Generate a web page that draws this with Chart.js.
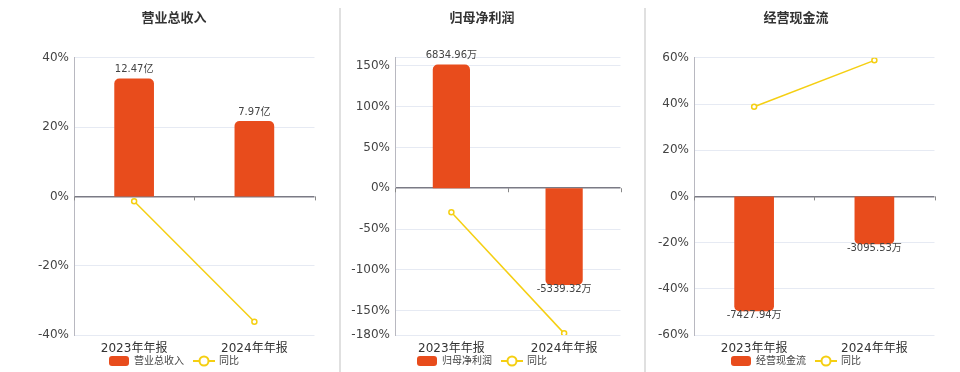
<!DOCTYPE html>
<html>
<head>
<meta charset="utf-8">
<script src="https://cdn.jsdelivr.net/npm/chart.js@4.4.1/dist/chart.umd.min.js"></script>
<style>
  html, body { margin: 0; padding: 0; background: #fff; overflow: hidden; }
  body { width: 960px; height: 372px; position: relative; }
  .panel { position: absolute; top: 0; height: 376px; }
  .sep { position: absolute; top: 8px; bottom: 0; width: 2px; background: #e0e0e0; }
</style>
</head>
<body>
<div class="panel" style="left:30px;width:290px"><canvas id="c1"></canvas></div>
<div class="panel" style="left:340px;width:286px"><canvas id="c2"></canvas></div>
<div class="panel" style="left:654px;width:286px"><canvas id="c3"></canvas></div>
<div class="sep" style="left:339px"></div>
<div class="sep" style="left:644px"></div>
<script>
// data
const periods = ['2023年年报', '2024年年报'];

const revenueTitle = '营业总收入';
const revenueValues = [12.47, 7.97];      // 亿
const revenueYoY = [-1.4, -36.2];         // %
const revenueTicks = [-40, -20, 0, 20, 40];

const profitTitle = '归母净利润';
const profitValues = [6834.96, -5339.32]; // 万
const profitYoY = [-29.5, -178];
const profitTicks = [-180, -150, -100, -50, 0, 50, 100, 150, 160];

const cashTitle = '经营现金流';
const cashValues = [-7427.94, -3095.53];  // 万
const cashYoY = [38.8, 58.9];
const cashTicks = [-60, -40, -20, 0, 20, 40, 60];

const BAR = '#e84c1c';
const LINE = '#f5cf12';
const FONT = "'DejaVu Sans', 'Noto Sans CJK SC', sans-serif";

// legend icons
const barIcon = document.createElement('canvas');
barIcon.width = 20; barIcon.height = 10;
(function () {
  const g = barIcon.getContext('2d');
  g.fillStyle = BAR;
  g.beginPath();
  g.roundRect(0, 0, 20, 10, 3);
  g.fill();
})();
const lineIcon = document.createElement('canvas');
lineIcon.width = 22; lineIcon.height = 12;
(function () {
  const g = lineIcon.getContext('2d');
  g.strokeStyle = LINE;
  g.lineWidth = 2;
  g.beginPath(); g.moveTo(0, 6); g.lineTo(22, 6); g.stroke();
  g.fillStyle = '#fff';
  g.beginPath(); g.arc(11, 6, 4.5, 0, Math.PI * 2); g.fill(); g.stroke();
})();

const valueLabels = {
  id: 'valueLabels',
  afterDatasetsDraw(chart, args, opts) {
    const meta = chart.getDatasetMeta(0);
    const ctx = chart.ctx;
    ctx.save();
    ctx.font = '10px ' + FONT;
    ctx.fillStyle = '#444';
    ctx.textAlign = 'center';
    ctx.textBaseline = 'middle';
    meta.data.forEach((bar, i) => {
      const v = chart.data.datasets[0].data[i];
      const y = v >= 0 ? bar.y - 9 : bar.y + 4;
      ctx.fillText(v.toFixed(2) + opts.unit, bar.x, y);
    });
    ctx.restore();
  }
};

const zeroTicks = {
  id: 'zeroTicks',
  afterDraw(chart) {
    const x = chart.scales.x, y = chart.scales.y;
    const y0 = y.getPixelForValue(0);
    const ctx = chart.ctx;
    ctx.save();
    ctx.strokeStyle = '#888';
    ctx.lineWidth = 1;
    for (let i = 0; i <= chart.data.labels.length; i++) {
      const px = Math.round(x.getPixelForValue(i - 0.5)) + 0.5;
      ctx.beginPath(); ctx.moveTo(px, y0); ctx.lineTo(px, y0 + 4); ctx.stroke();
    }
    ctx.restore();
  }
};

function makeChart(id, title, bars, yoy, ticks, barRange, unit, yWidth, hideTop) {
  const yMin = ticks[0], yMax = ticks[ticks.length - 1];
  return new Chart(document.getElementById(id), {
    data: {
      labels: periods,
      datasets: [
        {
          type: 'bar', label: title, data: bars, yAxisID: 'yb',
          backgroundColor: BAR, borderRadius: 5, borderSkipped: 'start',
          barPercentage: 0.33, categoryPercentage: 1, order: 2
        },
        {
          type: 'line', label: '同比', data: yoy, yAxisID: 'y',
          borderColor: LINE, borderWidth: 1.5, pointRadius: 2.5,
          pointBackgroundColor: '#fff', pointBorderColor: LINE, pointBorderWidth: 1.5,
          order: 1
        }
      ]
    },
    options: {
      responsive: true, maintainAspectRatio: false, animation: false,
      layout: { padding: { left: 0, right: 2, top: 0, bottom: 0 } },
      plugins: {
        title: {
          display: true, text: title, color: '#333',
          font: { family: FONT, size: 13, weight: 'bold' },
          padding: { top: 11, bottom: 31.2 }
        },
        legend: {
          position: 'bottom',
          labels: {
            usePointStyle: true, pointStyleWidth: 20, padding: 10,
            color: '#444', font: { family: FONT, size: 10 },
            sort: (a, b) => a.datasetIndex - b.datasetIndex,
            generateLabels(chart) {
              const items = Chart.defaults.plugins.legend.labels.generateLabels(chart);
              items.forEach(it => { it.pointStyle = it.datasetIndex === 0 ? barIcon : lineIcon; });
              return items;
            }
          }
        },
        tooltip: { enabled: false },
        valueLabels: { unit: unit }
      },
      scales: {
        x: {
          grid: { display: false, drawTicks: false },
          border: { display: false },
          ticks: { color: '#333', mirror: true, padding: -21, font: { family: FONT, size: 12 } },
          afterFit(s) { s.height = 11; }
        },
        y: {
          min: yMin, max: yMax,
          afterBuildTicks(s) { s.ticks = ticks.map(v => ({ value: v })); },
          grid: {
            drawTicks: false,
            color: c => c.tick && c.tick.value === 0 ? '#7a7a85' : '#e6eaf3',
            lineWidth: c => c.tick && c.tick.value === 0 ? 1.5 : 1
          },
          border: { color: '#b8b8c0', width: 1 },
          ticks: {
            color: '#444', padding: 5, font: { family: FONT, size: 12 },
            callback: v => (hideTop && v === yMax ? '' : v + '%')
          },
          afterFit(s) { s.width = yWidth; }
        },
        yb: { display: false, min: barRange[0], max: barRange[1] }
      }
    },
    plugins: [valueLabels, zeroTicks]
  });
}

makeChart('c1', revenueTitle, revenueValues, revenueYoY, revenueTicks, [-14.67, 14.67], '亿', 44, false);
makeChart('c2', profitTitle, profitValues, profitYoY, profitTicks, [-8100, 7200], '万', 55, true);
makeChart('c3', cashTitle, cashValues, cashYoY, cashTicks, [-8970, 8970], '万', 40, false);
</script>
</body>
</html>
